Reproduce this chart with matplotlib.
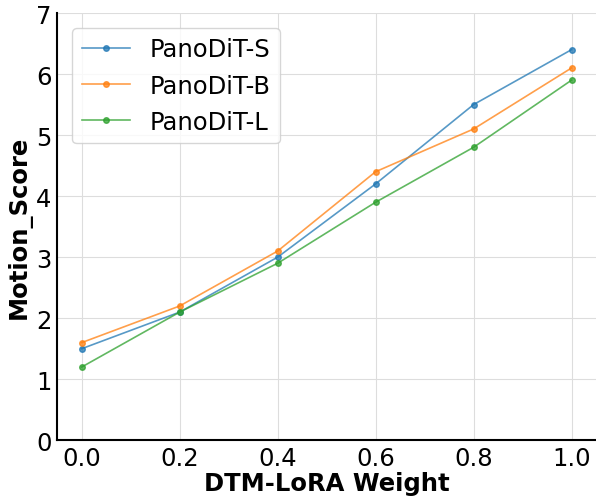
import matplotlib
matplotlib.use("Agg")
import matplotlib.pyplot as plt

weights = [0.0, 0.2, 0.4, 0.6, 0.8, 1.0]
score_s = [1.5, 2.1, 3.0, 4.2, 5.5, 6.4]
score_b = [1.6, 2.2, 3.1, 4.4, 5.1, 6.1]
score_l = [1.2, 2.1, 2.9, 3.9, 4.8, 5.9]
names = ["PanoDiT-S", "PanoDiT-B", "PanoDiT-L"]

fig, ax = plt.subplots(figsize=(5.96, 5.02), dpi=100)

for vals, name in zip([score_s, score_b, score_l], names):
    ax.plot(weights, vals, marker="o", markersize=4, linewidth=1.2, alpha=0.75, label=name)

ax.set_ylim(0, 7)
ax.set_xlabel("DTM-LoRA Weight", fontsize=17.5, fontweight="bold", labelpad=1)
ax.set_ylabel("Motion_Score", fontsize=17.5, fontweight="bold", labelpad=3)
ax.tick_params(labelsize=17.5, length=0, pad=4)
ax.grid(True, color="#dddddd", linewidth=0.8)
ax.set_axisbelow(True)
for side in ["top", "right"]:
    ax.spines[side].set_visible(False)
for side in ["left", "bottom"]:
    ax.spines[side].set_linewidth(1.5)

ax.legend(fontsize=17.5, loc="upper left", borderaxespad=0.6)

plt.subplots_adjust(left=0.096, right=1.0, top=0.972, bottom=0.121)
plt.savefig("out.png")
